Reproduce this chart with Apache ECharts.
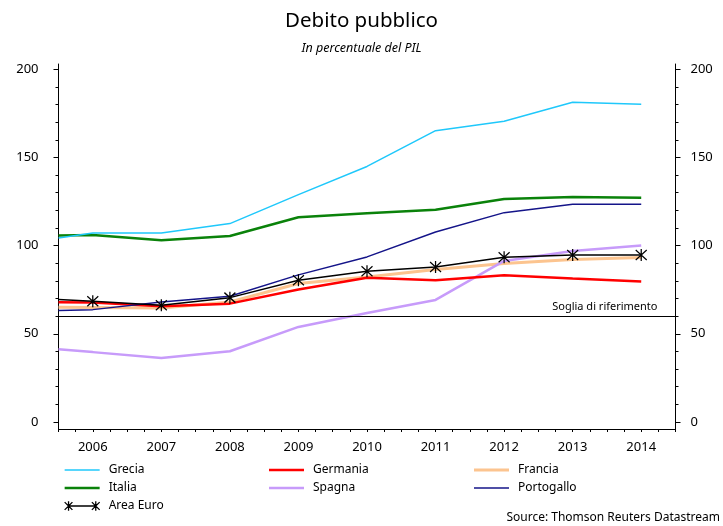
<!DOCTYPE html>
<html>
<head>
<meta charset="utf-8">
<title>Debito pubblico</title>
<script src="https://cdn.jsdelivr.net/npm/echarts@6/dist/echarts.min.js"></script>
<style>
  html, body { margin: 0; padding: 0; background: #fff; }
  #chart { width: 723px; height: 526px; }
</style>
</head>
<body>
<div id="chart"></div>
<script>
// Years shown on the horizontal axis
const years = [2006, 2007, 2008, 2009, 2010, 2011, 2012, 2013, 2014];
// Each series starts on the left edge of the plot (mid-2005), then one value per year
const edgeX = 2005.5;
const periods = [edgeX].concat(years);

// Public debt, % of GDP
const grecia     = [104.3, 107.2, 107.2, 112.5, 128.9, 144.9, 165.2, 170.5, 181.3, 180.2];
const italia     = [105.7, 106.0, 103.0, 105.5, 116.1, 118.3, 120.4, 126.5, 127.6, 127.2];
const germania   = [67.9, 67.7, 65.6, 67.1, 75.1, 81.8, 80.4, 83.2, 81.3, 79.6];
const francia    = [65.0, 64.9, 64.6, 68.0, 78.5, 82.2, 86.4, 89.8, 92.1, 93.2];
const spagna     = [41.2, 39.6, 36.3, 40.1, 53.9, 61.8, 69.2, 91.3, 97.0, 100.0];
const portogallo = [63.2, 63.7, 68.0, 71.3, 83.4, 93.6, 107.7, 118.7, 123.4, 123.4];
const areaEuro   = [69.4, 68.4, 66.2, 70.5, 80.4, 85.5, 87.9, 93.4, 94.7, 94.7];

// Reference threshold (Maastricht 60%)
const soglia = 60;

// Axis tick values
const yLabels = [0, 50, 100, 150, 200];
const yMinor = [];
for (let v = 0; v <= 200; v += 10) yMinor.push(v);
const xTicks = [];
for (let v = edgeX; v <= 2014.5 + 1e-9; v += 0.25) xTicks.push(v);

const starPath = 'path://M0,1L10,11M10,1L0,11M5,0L5,12';
const starLegend = 'path://M4,5L32,5M0,1L8,9M8,1L0,9M4,0L4,10M28,1L36,9M36,1L28,9M32,0L32,10';

const FONT = '"Noto Sans", "DejaVu Sans", sans-serif';

// Per-series colour and line width
const styles = {
  'Grecia':     { color: '#1fc8fb', width: 1.5 },
  'Italia':     { color: '#0a820a', width: 2.5 },
  'Germania':   { color: '#ff0000', width: 2.5 },
  'Francia':    { color: '#fcc48f', width: 3 },
  'Spagna':     { color: '#c79bfa', width: 2.5 },
  'Portogallo': { color: '#141489', width: 1.5 }
};

function pairs(values) {
  return values.map((v, i) => [periods[i], v]);
}

function lineSeries(name, values, z) {
  const s = styles[name];
  return {
    name: name,
    type: 'line',
    data: pairs(values),
    symbol: 'none',
    z: z,
    lineStyle: { color: s.color, width: s.width },
    itemStyle: { color: s.color },
    emphasis: { disabled: true },
    silent: true
  };
}

// Legend swatch: a plain bar as thick as the series line
function lineItem(name) {
  const w = styles[name].width;
  return {
    name: name,
    icon: 'path://M0,0H35V' + w + 'H0Z',
    itemStyle: { color: styles[name].color, borderWidth: 0 }
  };
}

const chart = echarts.init(document.getElementById('chart'), null, { renderer: 'canvas' });

const yBase = {
  type: 'value',
  min: -4,
  max: 203,
  splitLine: { show: false },
  axisLine: { show: true, onZero: false, lineStyle: { color: '#000', width: 1 } },
  axisLabel: { show: true, customValues: yLabels, color: '#000', fontSize: 13, fontFamily: FONT },
  axisTick: { show: true, customValues: yLabels, length: 5, lineStyle: { color: '#000' } }
};
const yMinorBase = {
  type: 'value',
  min: -4,
  max: 203,
  splitLine: { show: false },
  axisLine: { show: false },
  axisLabel: { show: false },
  axisTick: { show: true, customValues: yMinor, length: 3, lineStyle: { color: '#000' } }
};

const legendText = { color: '#000', fontSize: 12, fontFamily: FONT, padding: [0, 0, 0, 4], lineHeight: 14 };
function legend(left, items) {
  return {
    orient: 'vertical',
    left: left,
    top: 463,
    padding: 0,
    itemWidth: 35,
    itemHeight: 10,
    itemGap: 4,
    selectedMode: false,
    textStyle: legendText,
    data: items
  };
}

const option = {
  animation: false,
  backgroundColor: '#fff',
  title: [
    {
      text: 'Debito pubblico',
      left: 'center',
      top: 3,
      textStyle: { color: '#000', fontSize: 20.5, fontWeight: 'normal', fontFamily: FONT, lineHeight: 26 }
    },
    {
      text: 'In percentuale del PIL',
      left: 'center',
      top: 35,
      textStyle: { color: '#000', fontSize: 12.5, fontStyle: 'italic', fontWeight: 'normal', fontFamily: FONT, lineHeight: 16 }
    },
    {
      text: 'Source: Thomson Reuters Datastream',
      right: 3,
      top: 510,
      padding: 0,
      textStyle: { color: '#000', fontSize: 12, fontWeight: 'normal', fontFamily: FONT, lineHeight: 16 }
    }
  ],
  legend: [
    legend(64, [lineItem('Grecia'), lineItem('Italia'), {
      name: 'Area Euro',
      icon: starLegend,
      itemStyle: { color: 'transparent', borderColor: '#000', borderWidth: 1.3 }
    }]),
    legend(269, [lineItem('Germania'), lineItem('Spagna')]),
    legend(474, [lineItem('Francia'), lineItem('Portogallo')])
  ],
  grid: { left: 58.5, right: 47.5, top: 64, bottom: 97, containLabel: false },
  xAxis: {
    type: 'value',
    min: edgeX,
    max: 2014.5,
    splitLine: { show: false },
    axisLine: { show: true, onZero: false, lineStyle: { color: '#000', width: 1 } },
    axisTick: { show: true, customValues: xTicks, length: 3, lineStyle: { color: '#000' } },
    axisLabel: {
      customValues: years,
      formatter: (v) => String(v),
      color: '#000',
      fontSize: 13,
      fontFamily: FONT,
      margin: 12
    }
  },
  yAxis: [
    Object.assign({}, yBase, { position: 'left', axisLabel: Object.assign({}, yBase.axisLabel, { margin: 20 }) }),
    Object.assign({}, yBase, { position: 'right', axisLabel: Object.assign({}, yBase.axisLabel, { margin: 15 }) }),
    Object.assign({}, yMinorBase, { position: 'left' }),
    Object.assign({}, yMinorBase, { position: 'right' })
  ],
  series: [
    lineSeries('Francia', francia, 2),
    lineSeries('Spagna', spagna, 3),
    lineSeries('Germania', germania, 4),
    lineSeries('Italia', italia, 5),
    lineSeries('Grecia', grecia, 6),
    lineSeries('Portogallo', portogallo, 7),
    {
      name: 'Area Euro',
      type: 'line',
      z: 8,
      silent: true,
      emphasis: { disabled: true },
      data: areaEuro.map((v, i) => i === 0 ? { value: [periods[i], v], symbol: 'none' } : [periods[i], v]),
      symbol: starPath,
      symbolSize: [11, 12],
      lineStyle: { color: '#000', width: 1.5 },
      itemStyle: { color: 'transparent', borderColor: '#000', borderWidth: 1.3 },
      markLine: {
        silent: true,
        symbol: 'none',
        animation: false,
        lineStyle: { color: '#000', width: 1, type: 'solid' },
        label: {
          show: true,
          position: 'insideEndTop',
          formatter: 'Soglia di riferimento',
          color: '#000',
          fontSize: 11,
          fontFamily: FONT,
          distance: [18, 4]
        },
        emphasis: { disabled: true },
        data: [{ yAxis: soglia }]
      }
    }
  ]
};

chart.setOption(option);
</script>
</body>
</html>
